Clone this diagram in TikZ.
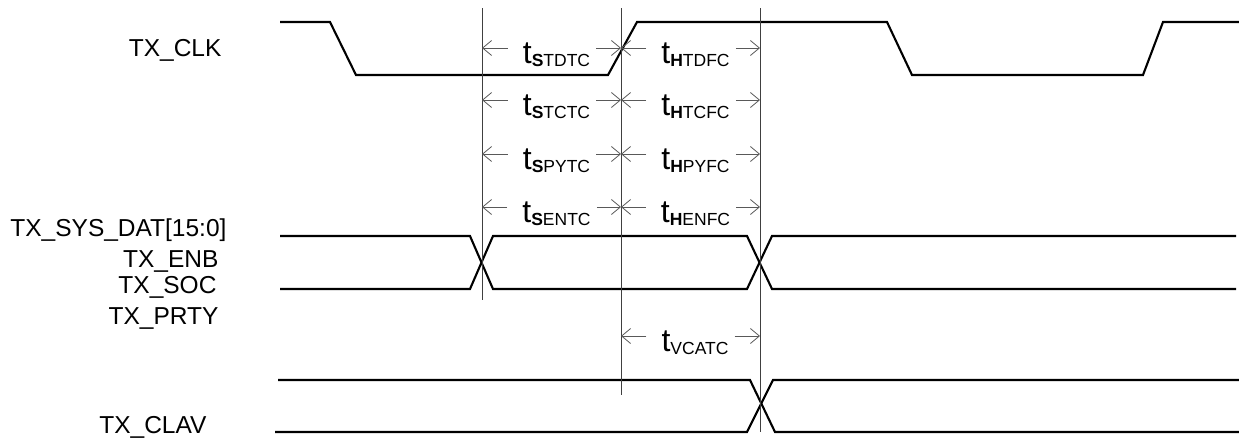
\documentclass[tikz,border=0pt]{standalone}
\usepackage{fontspec}
\setmainfont{Liberation Sans}
\usetikzlibrary{arrows.meta}

\newcommand{\tsub}[2]{\hspace{9pt}t\raisebox{-3pt}{\fontsize{17.5}{18}\selectfont\textbf{#1}#2}}

\begin{document}
\begin{tikzpicture}[x=1pt,y=-1pt,font=\fontsize{24.5}{28}\selectfont,
  sig/.style={line width=2.1pt},
  vline/.style={line width=1pt,black!75},
  dim/.style={line width=0.8pt,black!65,-{Straight Barb[length=9pt,width=15pt]}},
  tlab/.style={inner xsep=6pt,text height=30pt,text depth=0pt,font=\fontsize{32}{34}\selectfont}]
  \useasboundingbox (0,0) rectangle (1239,437);
  % signal names
  \node[anchor=base east] (clk) at (225,56) {TX\_CLK};
  \node[anchor=base east] (dat) at (230,236) {TX\_SYS\_DAT[15:0]};
  \node[anchor=base east] (enb) at (222,267) {TX\_ENB};
  \node[anchor=base east] (soc) at (220,293) {TX\_SOC};
  \node[anchor=base east] (prty) at (222,324) {TX\_PRTY};
  \node[anchor=base east] (clav) at (210,433) {TX\_CLAV};
  % waveforms
  \draw[sig] (280,22) -- (330,22) -- (356,75) -- (608,75) -- (637,22) -- (887,22)
    -- (912,75) -- (1143,75) -- (1163,22) -- (1239,22);
  \draw[sig] (280,236) -- (470,236) -- (493,289) -- (747,289) -- (772,236) -- (1236,236);
  \draw[sig] (280,289) -- (470,289) -- (493,236) -- (747,236) -- (772,289) -- (1236,289);
  \draw[sig] (278,380) -- (750,380) -- (775,432) -- (1239,432);
  \draw[sig] (275,432) -- (747,432) -- (773,380) -- (1239,380);
  % reference lines
  \coordinate (la) at (482,8);
  \coordinate (lb) at (482,300);
  \coordinate (ma) at (621,8);
  \coordinate (mb) at (621,395);
  \coordinate (ra) at (760,8);
  \coordinate (rb) at (760,432);
  \draw[vline] (la) -- (lb);
  \draw[vline] (ma) -- (mb);
  \draw[vline] (ra) -- (rb);
  % setup / hold times
  \node[tlab] (sdt) at (552,48) {\tsub{S}{TDTC}};
  \node[tlab] (hdt) at (691,48) {\tsub{H}{TDFC}};
  \node[tlab] (stc) at (552,100) {\tsub{S}{TCTC}};
  \node[tlab] (htc) at (691,100) {\tsub{H}{TCFC}};
  \node[tlab] (spy) at (552,154) {\tsub{S}{PYTC}};
  \node[tlab] (hpy) at (691,154) {\tsub{H}{PYFC}};
  \node[tlab] (sen) at (552,207) {\tsub{S}{ENTC}};
  \node[tlab] (hen) at (691,207) {\tsub{H}{ENFC}};
  \node[tlab] (vca) at (690.5,336) {\tsub{}{VCATC}};
  \draw[dim] (sdt.west) -- (sdt.west -| la);
  \draw[dim] (sdt.east) -- (sdt.east -| ma);
  \draw[dim] (hdt.west) -- (hdt.west -| ma);
  \draw[dim] (hdt.east) -- (hdt.east -| ra);
  \draw[dim] (stc.west) -- (stc.west -| la);
  \draw[dim] (stc.east) -- (stc.east -| ma);
  \draw[dim] (htc.west) -- (htc.west -| ma);
  \draw[dim] (htc.east) -- (htc.east -| ra);
  \draw[dim] (spy.west) -- (spy.west -| la);
  \draw[dim] (spy.east) -- (spy.east -| ma);
  \draw[dim] (hpy.west) -- (hpy.west -| ma);
  \draw[dim] (hpy.east) -- (hpy.east -| ra);
  \draw[dim] (sen.west) -- (sen.west -| la);
  \draw[dim] (sen.east) -- (sen.east -| ma);
  \draw[dim] (hen.west) -- (hen.west -| ma);
  \draw[dim] (hen.east) -- (hen.east -| ra);
  \draw[dim] (vca.west) -- (vca.west -| ma);
  \draw[dim] (vca.east) -- (vca.east -| ra);
\end{tikzpicture}
\end{document}
